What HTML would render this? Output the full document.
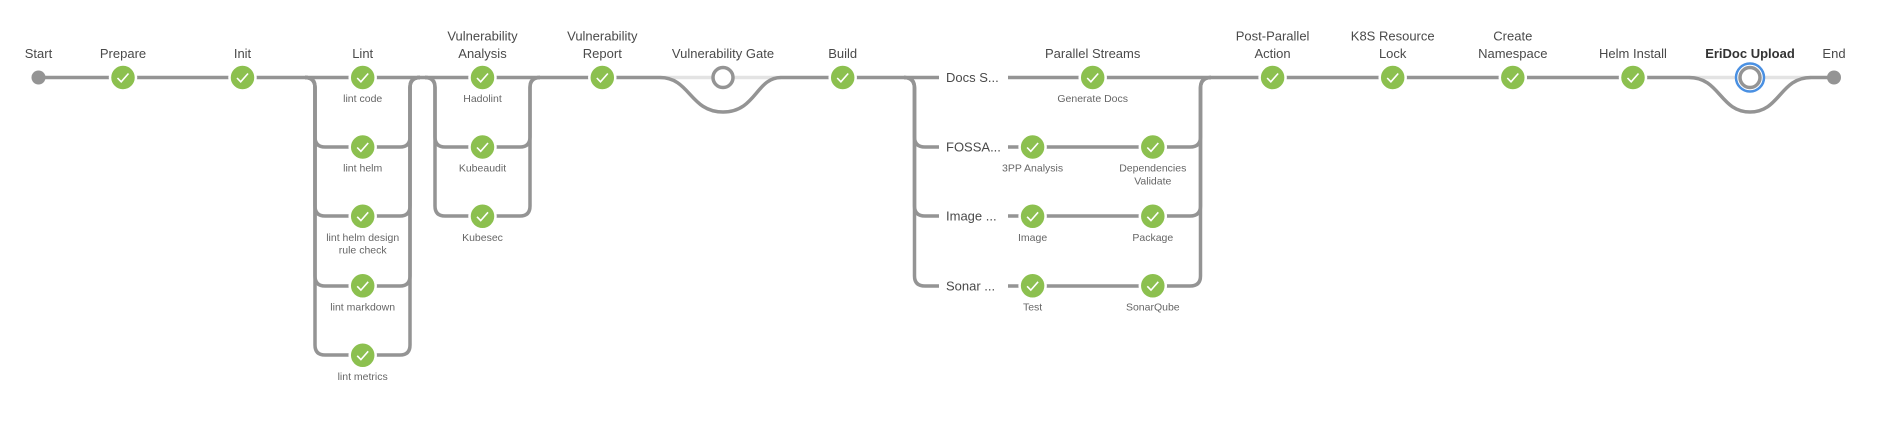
<!DOCTYPE html>
<html><head><meta charset="utf-8"><style>
html,body{margin:0;padding:0;background:#fff;width:1898px;height:430px;overflow:hidden}
text{font-family:"Liberation Sans",sans-serif;fill:#4a4a4a}
.t{font-size:13px;text-anchor:middle}
.s{font-size:10.5px;text-anchor:middle;fill:#666}
.l{fill:none;stroke:#949494;stroke-width:3.5}
</style></head><body>
<svg width="1898" height="430" xmlns="http://www.w3.org/2000/svg">
<defs>
<g id="ok"><circle r="13" fill="#8cc04f" stroke="#fff" stroke-width="2.5"/><path d="M-5.5 0.5 L-1.8 4.3 L5.5 -4" fill="none" stroke="#fff" stroke-width="1.6"/></g>
</defs>
<!-- main line -->
<path class="l" d="M38.5 77.5 H660"/>
<path class="l" d="M781 77.5 H1689"/>
<path class="l" d="M1811 77.5 H1834"/>
<!-- skipped light lines -->
<path d="M660 77.5 H781" stroke="#e3e3e3" stroke-width="3.5"/>
<path d="M1689 77.5 H1811" stroke="#e3e3e3" stroke-width="3.5"/>
<path class="l" d="M660 77.5 C690 77.5 690 112 723 112 C756 112 756 77.5 781 77.5"/>
<path class="l" d="M1689 77.5 C1720 77.5 1720 112 1750 112 C1780 112 1780 77.5 1811 77.5"/>
<!-- lint branch -->
<g class="l">
<path class="l" d="M305 77.5 Q315 77.5 315 87.5 V137 Q315 147 325 147 H400 Q410 147 410 137 V87.5 Q410 77.5 420 77.5"/>
<path class="l" d="M305 77.5 Q315 77.5 315 87.5 V206 Q315 216 325 216 H400 Q410 216 410 206 V87.5 Q410 77.5 420 77.5"/>
<path class="l" d="M305 77.5 Q315 77.5 315 87.5 V276 Q315 286 325 286 H400 Q410 286 410 276 V87.5 Q410 77.5 420 77.5"/>
<path class="l" d="M305 77.5 Q315 77.5 315 87.5 V345 Q315 355 325 355 H400 Q410 355 410 345 V87.5 Q410 77.5 420 77.5"/>
<!-- vuln analysis branch -->
<path class="l" d="M425 77.5 Q435 77.5 435 87.5 V137 Q435 147 445 147 H520 Q530 147 530 137 V87.5 Q530 77.5 540 77.5"/>
<path class="l" d="M425 77.5 Q435 77.5 435 87.5 V206 Q435 216 445 216 H520 Q530 216 530 206 V87.5 Q530 77.5 540 77.5"/>
<!-- parallel -->
<path class="l" d="M904 77.5 Q914.5 77.5 914.5 88 V137 Q914.5 147 925 147 H1190 Q1200.5 147 1200.5 137 V88 Q1200.5 77.5 1211 77.5"/>
<path class="l" d="M904 77.5 Q914.5 77.5 914.5 88 V206 Q914.5 216 925 216 H1190 Q1200.5 216 1200.5 206 V88 Q1200.5 77.5 1211 77.5"/>
<path class="l" d="M904 77.5 Q914.5 77.5 914.5 88 V276 Q914.5 286 925 286 H1190 Q1200.5 286 1200.5 276 V88 Q1200.5 77.5 1211 77.5"/>
</g>
<!-- parallel row labels with white bg -->
<rect x="939" y="68" width="69" height="20" fill="#fff"/>
<rect x="939" y="137" width="69" height="20" fill="#fff"/>
<rect x="939" y="206" width="69" height="20" fill="#fff"/>
<rect x="939" y="276" width="69" height="20" fill="#fff"/>
<text x="946" y="82" style="font-size:13px">Docs S...</text>
<text x="946" y="151.5" style="font-size:13px">FOSSA...</text>
<text x="946" y="220.5" style="font-size:13px">Image ...</text>
<text x="946" y="290.5" style="font-size:13px">Sonar ...</text>
<!-- start/end -->
<circle cx="38.5" cy="77.5" r="7" fill="#949494"/>
<circle cx="1834" cy="77.5" r="7" fill="#949494"/>
<!-- nodes -->
<use href="#ok" x="123" y="77.5"/>
<use href="#ok" x="242.5" y="77.5"/>
<use href="#ok" x="362.7" y="77.5"/>
<use href="#ok" x="362.7" y="147"/>
<use href="#ok" x="362.7" y="216.3"/>
<use href="#ok" x="362.7" y="285.8"/>
<use href="#ok" x="362.7" y="355.3"/>
<use href="#ok" x="482.5" y="77.5"/>
<use href="#ok" x="482.5" y="147"/>
<use href="#ok" x="482.5" y="216.3"/>
<use href="#ok" x="602.3" y="77.5"/>
<circle cx="723" cy="77.5" r="10" fill="#fff" stroke="#949494" stroke-width="3.5"/>
<use href="#ok" x="842.7" y="77.5"/>
<use href="#ok" x="1092.7" y="77.5"/>
<use href="#ok" x="1032.6" y="147"/>
<use href="#ok" x="1152.8" y="147"/>
<use href="#ok" x="1032.6" y="216.3"/>
<use href="#ok" x="1152.8" y="216.3"/>
<use href="#ok" x="1032.6" y="285.8"/>
<use href="#ok" x="1152.8" y="285.8"/>
<use href="#ok" x="1272.6" y="77.5"/>
<use href="#ok" x="1392.7" y="77.5"/>
<use href="#ok" x="1512.8" y="77.5"/>
<use href="#ok" x="1633" y="77.5"/>
<circle cx="1750" cy="77.5" r="14" fill="#fff" stroke="#4a90e2" stroke-width="2.5"/>
<circle cx="1750" cy="77.5" r="10" fill="#fff" stroke="#949494" stroke-width="3.5"/>
<!-- top labels -->
<text class="t" x="38.5" y="58">Start</text>
<text class="t" x="123" y="58">Prepare</text>
<text class="t" x="242.5" y="58">Init</text>
<text class="t" x="362.7" y="58">Lint</text>
<text class="t" x="482.5" y="40.5">Vulnerability</text>
<text class="t" x="482.5" y="58">Analysis</text>
<text class="t" x="602.3" y="40.5">Vulnerability</text>
<text class="t" x="602.3" y="58">Report</text>
<text class="t" x="723" y="58">Vulnerability Gate</text>
<text class="t" x="842.7" y="58">Build</text>
<text class="t" x="1092.7" y="58">Parallel Streams</text>
<text class="t" x="1272.6" y="40.5">Post-Parallel</text>
<text class="t" x="1272.6" y="58">Action</text>
<text class="t" x="1392.7" y="40.5">K8S Resource</text>
<text class="t" x="1392.7" y="58">Lock</text>
<text class="t" x="1512.8" y="40.5">Create</text>
<text class="t" x="1512.8" y="58">Namespace</text>
<text class="t" x="1633" y="58">Helm Install</text>
<text class="t" x="1750" y="58" style="font-weight:bold;fill:#333">EriDoc Upload</text>
<text class="t" x="1834" y="58">End</text>
<!-- small labels -->
<text class="s" x="362.7" y="102">lint code</text>
<text class="s" x="362.7" y="171.5">lint helm</text>
<text class="s" x="362.7" y="240.8">lint helm design</text>
<text class="s" x="362.7" y="253.5">rule check</text>
<text class="s" x="362.7" y="310.3">lint markdown</text>
<text class="s" x="362.7" y="379.8">lint metrics</text>
<text class="s" x="482.5" y="102">Hadolint</text>
<text class="s" x="482.5" y="171.5">Kubeaudit</text>
<text class="s" x="482.5" y="240.8">Kubesec</text>
<text class="s" x="1092.7" y="102">Generate Docs</text>
<text class="s" x="1032.6" y="171.5">3PP Analysis</text>
<text class="s" x="1152.8" y="171.5">Dependencies</text>
<text class="s" x="1152.8" y="184.5">Validate</text>
<text class="s" x="1032.6" y="240.8">Image</text>
<text class="s" x="1152.8" y="240.8">Package</text>
<text class="s" x="1032.6" y="310.3">Test</text>
<text class="s" x="1152.8" y="310.3">SonarQube</text>
</svg>
</body></html>
